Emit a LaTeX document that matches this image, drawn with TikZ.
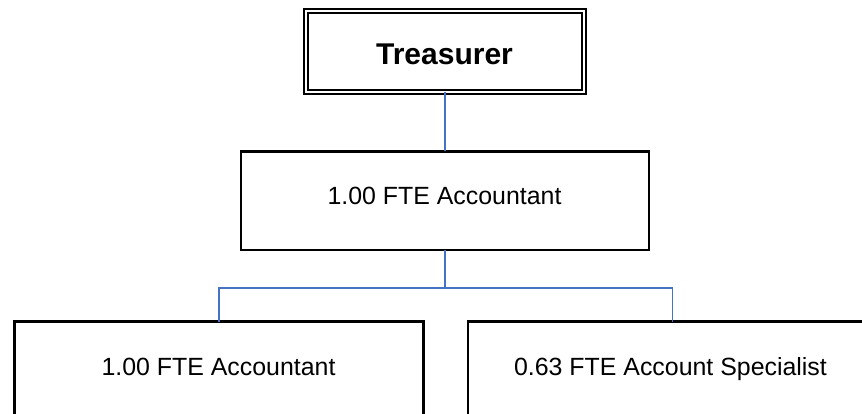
\documentclass[tikz,border=0pt]{standalone}
\usepackage{fontspec}
\setmainfont{Liberation Sans}
\definecolor{linkblue}{HTML}{4472C4}
\tikzset{
  orgbox/.style={draw=black, line width=2.8pt, fill=white, inner sep=0pt, outer sep=0pt,
    minimum width=408pt, minimum height=98.5pt},
  headbox/.style={draw=black, double=white, line width=2.2pt, double distance=1.8pt,
    fill=white, inner sep=0pt, outer sep=0pt, minimum width=278pt, minimum height=81pt},
  boxtext/.style={anchor=base, inner sep=0pt, font=\fontsize{24.9}{30}\selectfont},
  headtext/.style={anchor=base, inner sep=0pt, font=\fontsize{30}{36}\selectfont\bfseries},
  link/.style={draw=linkblue, line width=1.9pt}
}
\begin{document}
\begin{tikzpicture}[x=1pt,y=-1pt]
  \useasboundingbox (0,0) rectangle (862,414);
  \clip (0,0) rectangle (862,414);
  \fill[white] (0,0) rectangle (862,414);

  % boxes
  \node[headbox] (treas) at (445,51.5) {};
  \node[orgbox] (acc) at (445,200.75) {};
  \node[orgbox, minimum width=409pt] (accB) at (218.7,371) {};
  \node[orgbox, minimum width=409pt] (spec) at (672.5,371) {};

  % titles
  \node[headtext] (treastxt) at (444.5,65) {Treasurer};
  \node[boxtext] (acctxt) at (444.5,205) {1.00 FTE Accountant};
  \node[boxtext] (accBtxt) at (218.5,375) {1.00 FTE Accountant};
  \node[boxtext] (spectxt) at (670.5,375) {0.63 FTE Account Specialist};

  % reporting lines
  \coordinate (bus) at (445,288);
  \draw[link] (treas.south) -- (acc.north);
  \draw[link] (acc.south) -- (bus);
  \draw[link] (bus) -| (accB.north);
  \draw[link] (bus) -| (spec.north);
\end{tikzpicture}
\end{document}
